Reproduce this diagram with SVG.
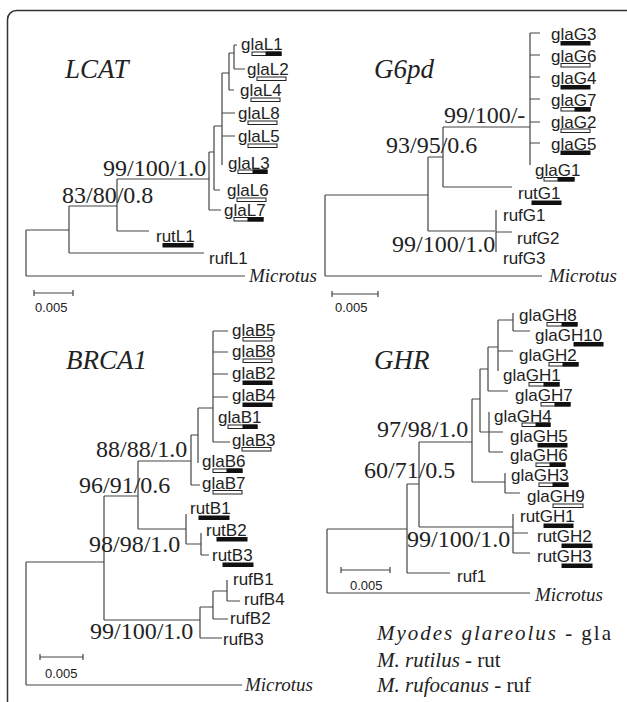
<svg xmlns="http://www.w3.org/2000/svg" width="627" height="702" viewBox="0 0 627 702">
<style>
.frame{fill:none;stroke:#333;stroke-width:1.5}
.ln{fill:none;stroke:#444;stroke-width:1.2}
.tip{font-family:"Liberation Sans",Arial,sans-serif;font-size:17px;fill:#222}
.sv{font-family:"Liberation Serif","Times New Roman",serif;font-size:24px;fill:#222}
.ttl{font-family:"Liberation Serif","Times New Roman",serif;font-size:27px;font-style:italic;fill:#222}
.mic{font-family:"Liberation Serif","Times New Roman",serif;font-size:19px;font-style:italic;fill:#222}
.sc{font-family:"Liberation Sans",Arial,sans-serif;font-size:13px;fill:#222}
.lg{font-family:"Liberation Serif","Times New Roman",serif;font-size:21px;fill:#222}
.lg .i{font-style:italic}
.bw{fill:#fff;stroke:#222;stroke-width:1}
.bb{fill:#111;stroke:#111;stroke-width:1}
</style>
<rect class="frame" x="7.5" y="10.5" width="700" height="800" rx="9"/>

<g id="connectors">
<path class="ln" d="M234 45V69M234 45H237M234 69H245M229 53V90M229 53H234M229 90H234M222 73V165M222 73H229M222 113H235M222 136H235M214 126V190M214 126H222M214 190H220M209 152V210M209 152H214M209 210H221M117 179V231M117 179H209M117 231H149M69 206V253M69 206H117M69 253H204M26 230V276M26 230H69M26 276H245"/>
<path class="ln" d="M530 33V165M530 33H540M530 55H540M530 77H540M530 99H540M530 122H540M530 143H540M443 127V187M443 127H530M443 187H512M428 157V231M428 157H443M428 231H495M496 210V252M496 232H512M325 195V276M325 195H428M325 276H542"/>
<path class="ln" d="M213 331V442M213 331H228M213 352H228M213 374H228M213 397H228M213 442H230M198 408V463M198 408H213M191 435V485M191 435H198M191 485H200M138 461V529M138 461H191M138 529H186M186 514V544M186 544H201M201 533V555M201 555H209M104 496V620M104 496H138M104 620H200M200 607V638M200 607H213M200 638H222M213 591V619M213 591H227M213 619H228M227 580V601M227 601H240M26 562V685M26 562H104M26 685H242"/>
<path class="ln" d="M513 313V331M513 331H530M498 320V371M498 320H513M498 351H513M488 347V391M488 347H498M488 391H508M480 369V432M480 369H488M480 432H503M489 412V452M489 452H503M472 399V482M472 399H480M472 482H505M505 473V493M505 493H520M419 442V527M419 442H472M419 527H513M513 514V553M513 533H528M513 553H530M407 484V573M407 484H419M407 573H450M327 529V593M327 529H407M327 593H530"/>
<path class="ln" d="M34 293H73M34 290V296M73 290V296M332 294H378M332 291V297M378 291V297M40 657H83M40 654V660M83 654V660M341 570H390M341 567V573M390 567V573"/>
</g>

<g id="titles">
<text class="ttl" x="65" y="78">LCAT</text>
<text class="ttl" x="374" y="78">G6pd</text>
<text class="ttl" x="66" y="369">BRCA1</text>
<text class="ttl" x="374" y="369">GHR</text>
</g>

<g id="support">
<text class="sv" x="103" y="176">99/100/1.0</text>
<text class="sv" x="62" y="203">83/80/0.8</text>
<text class="sv" x="444" y="123">99/100/-</text>
<text class="sv" x="386" y="153">93/95/0.6</text>
<text class="sv" x="392" y="252">99/100/1.0</text>
<text class="sv" x="96" y="457">88/88/1.0</text>
<text class="sv" x="79" y="493">96/91/0.6</text>
<text class="sv" x="89" y="552">98/98/1.0</text>
<text class="sv" x="90" y="639">99/100/1.0</text>
<text class="sv" x="377" y="437">97/98/1.0</text>
<text class="sv" x="364" y="478">60/71/0.5</text>
<text class="sv" x="407" y="547">99/100/1.0</text>
</g>

<g id="scales">
<text class="sc" x="35" y="312">0.005</text>
<text class="sc" x="335" y="312">0.005</text>
<text class="sc" x="45" y="678">0.005</text>
<text class="sc" x="350" y="590">0.005</text>
</g>

<!-- LCAT tips -->
<g id="glaL1"><text class="tip" x="241" y="50">glaL1</text><rect class="bw" x="252" y="52" width="29" height="3.5"/><rect class="bb" x="266" y="52" width="15" height="3.5"/></g>
<g id="glaL2"><text class="tip" x="247" y="75">glaL2</text><rect class="bw" x="257" y="77" width="29" height="3.5"/></g>
<g id="glaL4"><text class="tip" x="240" y="96">glaL4</text><rect class="bw" x="251" y="98" width="29" height="3.5"/></g>
<g id="glaL8"><text class="tip" x="238" y="119">glaL8</text><rect class="bw" x="248" y="121" width="29" height="3.5"/></g>
<g id="glaL5"><text class="tip" x="238" y="142">glaL5</text><rect class="bw" x="248" y="144" width="29" height="3.5"/></g>
<g id="glaL3"><text class="tip" x="228" y="169">glaL3</text><rect class="bw" x="238" y="170" width="29" height="3.5"/><rect class="bb" x="253" y="170" width="14" height="3.5"/></g>
<g id="glaL6"><text class="tip" x="227" y="196">glaL6</text><rect class="bw" x="237" y="198" width="29" height="3.5"/></g>
<g id="glaL7"><text class="tip" x="224" y="216">glaL7</text><rect class="bw" x="234" y="217.5" width="29" height="3.5"/><rect class="bb" x="248" y="217.5" width="15" height="3.5"/></g>
<g id="rutL1"><text class="tip" x="156" y="242">rutL1</text><rect class="bb" x="163" y="243.5" width="30" height="3.5"/></g>
<g id="rufL1"><text class="tip" x="209" y="264">rufL1</text></g>
<g id="microtusL"><text class="mic" x="249" y="282">Microtus</text></g>

<!-- G6pd tips -->
<g id="glaG3"><text class="tip" x="551" y="40">glaG3</text><rect class="bb" x="561" y="41.5" width="29" height="3.5"/></g>
<g id="glaG6"><text class="tip" x="551" y="62">glaG6</text><rect class="bw" x="561" y="63.5" width="29" height="3.5"/></g>
<g id="glaG4"><text class="tip" x="551" y="84">glaG4</text><rect class="bb" x="561" y="85.5" width="29" height="3.5"/></g>
<g id="glaG7"><text class="tip" x="551" y="106">glaG7</text><rect class="bw" x="561" y="107.5" width="29" height="3.5"/><rect class="bb" x="575" y="107.5" width="15" height="3.5"/></g>
<g id="glaG2"><text class="tip" x="551" y="128">glaG2</text><rect class="bw" x="561" y="129" width="29" height="3.5"/></g>
<g id="glaG5"><text class="tip" x="551" y="150">glaG5</text><rect class="bb" x="561" y="151" width="29" height="3.5"/></g>
<g id="glaG1"><text class="tip" x="535" y="176">glaG1</text><rect class="bw" x="544" y="177.5" width="30" height="3.5"/><rect class="bb" x="558" y="177.5" width="16" height="3.5"/></g>
<g id="rutG1"><text class="tip" x="518" y="199">rutG1</text><rect class="bb" x="532" y="201" width="29" height="3.5"/></g>
<g id="rufG1"><text class="tip" x="503" y="221">rufG1</text></g>
<g id="rufG2"><text class="tip" x="517" y="244">rufG2</text></g>
<g id="rufG3"><text class="tip" x="503" y="264">rufG3</text></g>
<g id="microtusG"><text class="mic" x="549" y="282">Microtus</text></g>

<!-- BRCA1 tips -->
<g id="glaB5"><text class="tip" x="232" y="336">glaB5</text><rect class="bw" x="243" y="337.5" width="29" height="3.5"/></g>
<g id="glaB8"><text class="tip" x="232" y="357">glaB8</text><rect class="bw" x="243" y="359" width="29" height="3.5"/></g>
<g id="glaB2"><text class="tip" x="232" y="379">glaB2</text><rect class="bb" x="243" y="381" width="29" height="3.5"/></g>
<g id="glaB4"><text class="tip" x="232" y="401">glaB4</text><rect class="bb" x="243" y="403" width="29" height="3.5"/></g>
<g id="glaB1"><text class="tip" x="218" y="423">glaB1</text><rect class="bw" x="228" y="425" width="29" height="3.5"/><rect class="bb" x="243" y="425" width="14" height="3.5"/></g>
<g id="glaB3"><text class="tip" x="232" y="446">glaB3</text><rect class="bw" x="242" y="447.5" width="29" height="3.5"/></g>
<g id="glaB6"><text class="tip" x="202" y="467">glaB6</text><rect class="bw" x="213" y="469" width="29" height="3.5"/><rect class="bb" x="227" y="469" width="15" height="3.5"/></g>
<g id="glaB7"><text class="tip" x="202" y="489">glaB7</text><rect class="bw" x="213" y="490.5" width="29" height="3.5"/></g>
<g id="rutB1"><text class="tip" x="190" y="514">rutB1</text><rect class="bb" x="199" y="516" width="30" height="3.5"/></g>
<g id="rutB2"><text class="tip" x="206" y="536">rutB2</text><rect class="bb" x="217" y="537.5" width="30" height="3.5"/></g>
<g id="rutB3"><text class="tip" x="212" y="561">rutB3</text><rect class="bb" x="223" y="563" width="30" height="3.5"/></g>
<g id="rufB1"><text class="tip" x="233" y="585">rufB1</text></g>
<g id="rufB4"><text class="tip" x="244" y="605">rufB4</text></g>
<g id="rufB2"><text class="tip" x="230" y="624">rufB2</text></g>
<g id="rufB3"><text class="tip" x="223" y="645">rufB3</text></g>
<g id="microtusB"><text class="mic" x="245" y="691">Microtus</text></g>

<!-- GHR tips -->
<g id="glaGH8"><text class="tip" x="519" y="321">glaGH8</text><rect class="bw" x="547" y="322.5" width="30" height="3.5"/><rect class="bb" x="562" y="322.5" width="15" height="3.5"/></g>
<g id="glaGH10"><text class="tip" x="535" y="341">glaGH10</text><rect class="bb" x="574" y="342.5" width="29" height="3.5"/></g>
<g id="glaGH2"><text class="tip" x="519" y="361">glaGH2</text><rect class="bw" x="549" y="362.5" width="29" height="3.5"/><rect class="bb" x="563" y="362.5" width="15" height="3.5"/></g>
<g id="glaGH1"><text class="tip" x="503" y="381">glaGH1</text><rect class="bw" x="529" y="382.5" width="30" height="3.5"/><rect class="bb" x="544" y="382.5" width="15" height="3.5"/></g>
<g id="glaGH7"><text class="tip" x="515" y="401">glaGH7</text><rect class="bw" x="541" y="402.5" width="29" height="3.5"/><rect class="bb" x="555" y="402.5" width="15" height="3.5"/></g>
<g id="glaGH4"><text class="tip" x="494" y="422">glaGH4</text><rect class="bw" x="522" y="423" width="28" height="3.5"/><rect class="bb" x="536" y="423" width="14" height="3.5"/></g>
<g id="glaGH5"><text class="tip" x="510" y="442">glaGH5</text><rect class="bb" x="538" y="443.5" width="29" height="3.5"/></g>
<g id="glaGH6"><text class="tip" x="510" y="461">glaGH6</text><rect class="bw" x="536" y="463" width="29" height="3.5"/><rect class="bb" x="550" y="463" width="15" height="3.5"/></g>
<g id="glaGH3"><text class="tip" x="511" y="481">glaGH3</text><rect class="bw" x="539" y="483" width="29" height="3.5"/><rect class="bb" x="553" y="483" width="15" height="3.5"/></g>
<g id="glaGH9"><text class="tip" x="527" y="502">glaGH9</text><rect class="bw" x="553" y="504" width="30" height="3.5"/></g>
<g id="rutGH1"><text class="tip" x="520" y="522">rutGH1</text><rect class="bb" x="544" y="524" width="29" height="3.5"/></g>
<g id="rutGH2"><text class="tip" x="537" y="542">rutGH2</text><rect class="bb" x="562" y="544" width="30" height="3.5"/></g>
<g id="rutGH3"><text class="tip" x="537" y="562">rutGH3</text><rect class="bb" x="562" y="564" width="30" height="3.5"/></g>
<g id="ruf1"><text class="tip" x="457" y="582">ruf1</text></g>
<g id="microtusGH"><text class="mic" x="535" y="601">Microtus</text></g>

<g id="legend">
<text class="lg" x="377" y="640" textLength="234" lengthAdjust="spacing"><tspan class="i">Myodes glareolus</tspan> - gla</text>
<text class="lg" x="377" y="667"><tspan class="i">M. rutilus</tspan> - rut</text>
<text class="lg" x="377" y="692"><tspan class="i">M. rufocanus</tspan> - ruf</text>
</g>
</svg>
